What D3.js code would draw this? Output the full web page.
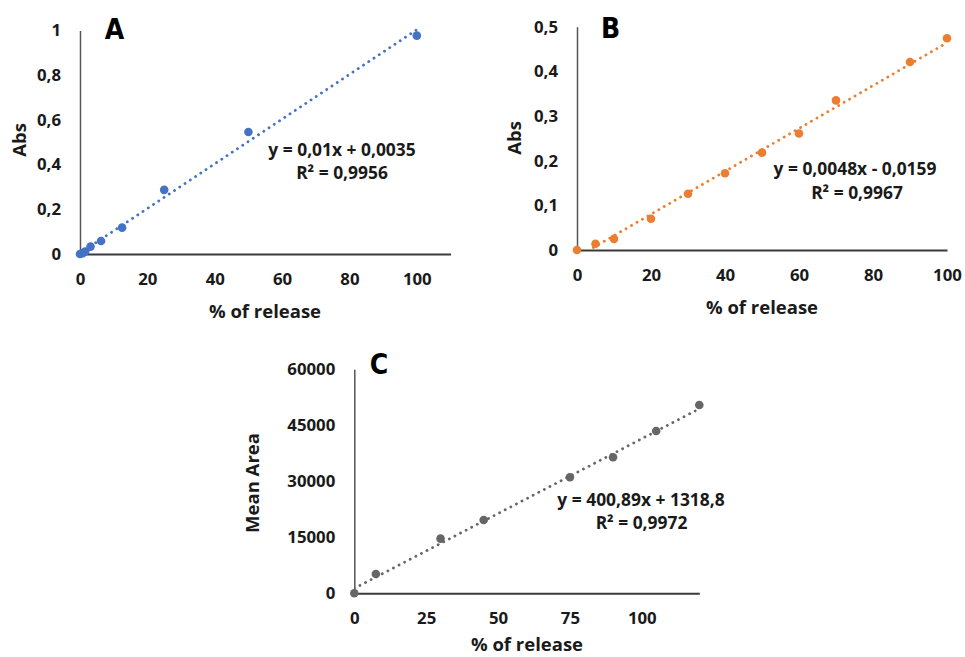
<!DOCTYPE html>
<html>
<head>
<meta charset="utf-8">
<script src="https://cdn.jsdelivr.net/npm/d3@7"></script>
<style>
  html, body { margin: 0; padding: 0; background: #fff; }
  svg { display: block; }
  .tick text { font-family: "Open Sans", sans-serif; font-weight: 700; font-size: 16.8px; fill: #1a1a1a; }
  .title { font-family: "Open Sans", sans-serif; font-weight: 700; font-size: 18.5px; fill: #1a1a1a; }
  .eq { font-family: "Open Sans", sans-serif; font-weight: 700; font-size: 17.4px; fill: #1a1a1a; }
  .letter { font-family: "Liberation Sans Narrow", "DejaVu Sans Condensed", sans-serif; font-weight: 700; font-size: 28px; fill: #000; }
</style>
</head>
<body>
<svg id="chart" width="965" height="657"></svg>
<script>
// Calibration series (A: absorbance, B: absorbance, C: HPLC mean peak area)
const xA = [0, 0.78, 1.56, 3.125, 6.25, 12.5, 25, 50, 100];
const yA = [0, 0.004, 0.011, 0.033, 0.058, 0.118, 0.287, 0.546, 0.977];

const xB = [0, 5, 10, 20, 30, 40, 50, 60, 70, 90, 100];
const yB = [0, 0.014, 0.025, 0.070, 0.126, 0.172, 0.218, 0.261, 0.335, 0.421, 0.474];

const xC = [0, 7.5, 30, 45, 75, 90, 105, 120];
const yC = [0, 5180, 14640, 19640, 31070, 36430, 43480, 50450];

// Linear fits: [slope, intercept]
const fitA = [0.01, 0.0035];
const fitB = [0.0048, -0.0159];
const fitC = [400.89, 1318.8];

const eqA = ["y = 0,01x + 0,0035", "R² = 0,9956"];
const eqB = ["y = 0,0048x - 0,0159", "R² = 0,9967"];
const eqC = ["y = 400,89x + 1318,8", "R² = 0,9972"];

const xTicksA = [0, 20, 40, 60, 80, 100];
const yTicksA = [0, 0.2, 0.4, 0.6, 0.8, 1];
const xTicksB = [0, 20, 40, 60, 80, 100];
const yTicksB = [0, 0.1, 0.2, 0.3, 0.4, 0.5];
const xTicksC = [0, 25, 50, 75, 100];
const yTicksC = [0, 15000, 30000, 45000, 60000];

const locale = d3.formatLocale({ decimal: ",", thousands: "", grouping: [3], currency: ["", ""] });
const fmt = v => locale.format("~g")(v);

const svg = d3.select("#chart");

function panel(cfg) {
  const g = svg.append("g");
  const x = d3.scaleLinear().domain(cfg.xDomain).range(cfg.xRange);
  const y = d3.scaleLinear().domain(cfg.yDomain).range(cfg.yRange);

  // axes
  const gx = g.append("g").attr("transform", `translate(0,${y(0)})`)
    .call(d3.axisBottom(x).tickValues(cfg.xTicks).tickSize(0).tickSizeOuter(0).tickPadding(19).tickFormat(fmt));
  gx.select(".domain").attr("stroke", "#3a3a3a").attr("stroke-width", 2);
  const gy = g.append("g").attr("transform", `translate(${x(0)},0)`)
    .call(d3.axisLeft(y).tickValues(cfg.yTicks).tickSize(0).tickSizeOuter(0).tickPadding(19).tickFormat(fmt));
  gy.select(".domain").attr("stroke", "#555").attr("stroke-width", 1.5);
  g.selectAll(".tick line").remove();

  // dotted trend line, clipped to the plot area
  const clipId = "clip" + cfg.name;
  g.append("clipPath").attr("id", clipId).append("rect")
    .attr("x", cfg.xRange[0]).attr("y", cfg.yRange[1] - 10)
    .attr("width", cfg.xRange[1] - cfg.xRange[0] + 10)
    .attr("height", cfg.yRange[0] - cfg.yRange[1] + 10);
  const tx = d3.range(cfg.fitRange[0], cfg.fitRange[1] + 0.001, (cfg.fitRange[1] - cfg.fitRange[0]) / 200);
  const line = d3.line().x(d => x(d)).y(d => y(cfg.fit[0] * d + cfg.fit[1]));
  g.append("path").datum(tx).attr("d", line)
    .attr("clip-path", `url(#${clipId})`)
    .attr("fill", "none").attr("stroke", cfg.color)
    .attr("stroke-width", 2.8).attr("stroke-linecap", "round")
    .attr("stroke-dasharray", "0.1 6.2");

  // markers
  g.selectAll("circle.pt").data(cfg.xs).join("circle")
    .attr("class", "pt")
    .attr("cx", d => x(d)).attr("cy", (d, i) => y(cfg.ys[i]))
    .attr("r", 4.3).attr("fill", cfg.color);

  // equation
  cfg.eq.forEach((t, i) => {
    g.append("text").attr("class", "eq")
      .attr("x", cfg.eqPos[i][0]).attr("y", cfg.eqPos[i][1])
      .attr("text-anchor", "middle").attr("dy", "0.35em").text(t);
  });

  // axis titles
  g.append("text").attr("class", "title")
    .attr("x", cfg.xTitle[0]).attr("y", cfg.xTitle[1])
    .attr("text-anchor", "middle").attr("dy", "0.35em").text("% of release");
  g.append("text").attr("class", "title")
    .attr("transform", `translate(${cfg.yTitle[0]},${cfg.yTitle[1]}) rotate(-90)`)
    .attr("text-anchor", "middle").attr("dy", "0.35em").text(cfg.yLabel);

  // panel letter
  g.append("text").attr("class", "letter")
    .attr("x", cfg.letterPos[0]).attr("y", cfg.letterPos[1])
    .attr("text-anchor", "middle").attr("dy", "0.36em").text(cfg.name);
}

panel({
  name: "A", color: "#4472C4",
  xs: xA, ys: yA, fit: fitA, fitRange: [0, 100], eq: eqA,
  xDomain: [0, 110], xRange: [80, 450.5],
  yDomain: [0, 1], yRange: [254, 30.5],
  xTicks: xTicksA, yTicks: yTicksA,
  eqPos: [[342, 150], [342, 173]],
  xTitle: [265, 312], yTitle: [20, 140], yLabel: "Abs",
  letterPos: [114.5, 29]
});

panel({
  name: "B", color: "#ED7D31",
  xs: xB, ys: yB, fit: fitB, fitRange: [0, 100], eq: eqB,
  xDomain: [0, 100], xRange: [577, 947],
  yDomain: [0, 0.5], yRange: [250, 26.7],
  xTicks: xTicksB, yTicks: yTicksB,
  eqPos: [[855, 169], [857, 193]],
  xTitle: [762, 308], yTitle: [515, 138], yLabel: "Abs",
  letterPos: [610.5, 28]
});

panel({
  name: "C", color: "#666666",
  xs: xC, ys: yC, fit: fitC, fitRange: [0, 120], eq: eqC,
  xDomain: [0, 120], xRange: [354.3, 699.3],
  yDomain: [0, 60000], yRange: [593.3, 369.3],
  xTicks: xTicksC, yTicks: yTicksC,
  eqPos: [[641, 500], [641.5, 523]],
  xTitle: [527, 645], yTitle: [253, 483], yLabel: "Mean Area",
  letterPos: [379, 364]
});
</script>
</body>
</html>
